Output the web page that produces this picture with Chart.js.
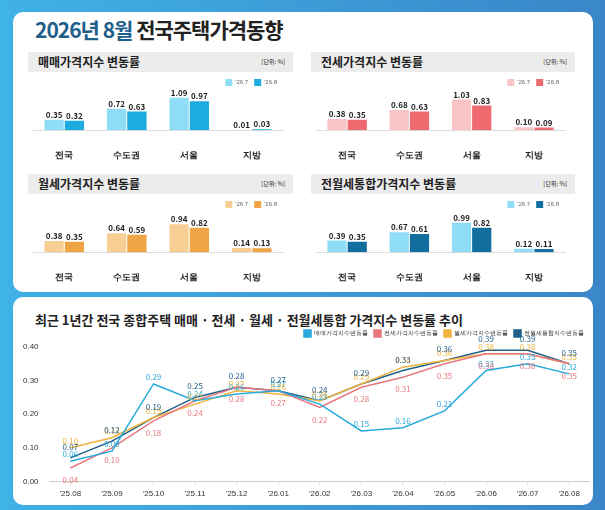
<!DOCTYPE html>
<html><head><meta charset="utf-8">
<script src="https://cdn.jsdelivr.net/npm/chart.js@4"></script>
<style>
body{margin:0;width:605px;height:510px;overflow:hidden;font-family:"Noto Sans CJK KR","Noto Sans",sans-serif;
 background:linear-gradient(90deg,#3fb2e6,#3a86c8);}
.card{position:absolute;background:#fff;border-radius:10px}
.title{position:absolute;left:35px;top:14px;font-size:21px;font-weight:bold;color:#222;letter-spacing:-1px}
.title span{color:#1f5f8b}
.hd{position:absolute;height:20px;background:#ececec;font-size:12px;font-weight:bold;line-height:20px;padding-left:10px;color:#222}
.hd i{position:absolute;right:8px;font-style:normal;font-size:6px;font-weight:normal}
.box{position:absolute}
.btitle{position:absolute;left:35px;top:310px;font-size:13px;font-weight:bold;color:#222}
</style></head><body>
<div class="card" style="left:13px;top:12px;width:580px;height:280px"></div>
<div class="card" style="left:13px;top:297px;width:580px;height:208px"></div>
<div class="title"><span>2026년 8월</span> 전국주택가격동향</div>
<div class="hd" style="left:28px;top:52px;width:255px">매매가격지수 변동률<i>[단위: %]</i></div>
<div class="hd" style="left:311px;top:52px;width:254px">전세가격지수 변동률<i>[단위: %]</i></div>
<div class="hd" style="left:28px;top:174px;width:255px">월세가격지수 변동률<i>[단위: %]</i></div>
<div class="hd" style="left:311px;top:174px;width:254px">전월세통합가격지수 변동률<i>[단위: %]</i></div>
<div class="box" style="left:28px;top:73px;width:265px;height:100px"><canvas id="c1"></canvas></div>
<div class="box" style="left:311px;top:73px;width:264px;height:100px"><canvas id="c2"></canvas></div>
<div class="box" style="left:28px;top:195px;width:265px;height:100px"><canvas id="c3"></canvas></div>
<div class="box" style="left:311px;top:195px;width:264px;height:100px"><canvas id="c4"></canvas></div>
<div class="btitle">최근 1년간 전국 종합주택 매매 · 전세 · 월세 · 전월세통합 가격지수 변동률 추이</div>
<div class="box" style="left:20px;top:324px;width:570px;height:178px"><canvas id="c5"></canvas></div>
<script>
var regions=["전국","수도권","서울","지방"];
var saleJul=[0.35,0.72,1.09,0.01], saleAug=[0.32,0.63,0.97,0.03];
var jeonseJul=[0.38,0.68,1.03,0.10], jeonseAug=[0.35,0.63,0.83,0.09];
var rentJul=[0.38,0.64,0.94,0.14], rentAug=[0.35,0.59,0.82,0.13];
var mixJul=[0.39,0.67,0.99,0.12], mixAug=[0.35,0.61,0.82,0.11];

var months=["'25.08","'25.09","'25.10","'25.11","'25.12","'26.01","'26.02","'26.03","'26.04","'26.05","'26.06","'26.07","'26.08"];
var saleLine=[0.06,0.09,0.29,0.24,0.26,0.27,0.23,0.15,0.16,0.21,0.33,0.35,0.32];
var jeonseLine=[0.04,0.10,0.18,0.24,0.28,0.27,0.22,0.28,0.31,0.35,0.38,0.38,0.35];
var rentLine=[0.10,0.13,0.19,0.23,0.27,0.26,0.24,0.29,0.34,0.36,0.38,0.38,0.35];
var mixLine=[0.07,0.12,0.19,0.25,0.28,0.27,0.24,0.29,0.33,0.36,0.39,0.39,0.35];

var valueLabels={id:"valueLabels",afterDatasetsDraw:function(chart){
  var ctx=chart.ctx;ctx.save();
  chart.data.datasets.forEach(function(ds,i){
    chart.getDatasetMeta(i).data.forEach(function(el,j){
      ctx.font="bold 8px 'Noto Sans CJK KR'";ctx.textAlign="center";
      if(chart.config.type==="bar"){ctx.fillStyle="#222";ctx.fillText(ds.data[j].toFixed(2),el.x,el.y-5);}
      else{ctx.fillStyle=ds.borderColor;ctx.font="8px 'Noto Sans CJK KR'";
        var off=[-7,12,-7,-7][i];ctx.fillText(ds.data[j].toFixed(2),el.x,el.y+off-(i==3?4:0));}
    });
  });ctx.restore();}};

function barChart(id,a,b,c1,c2){
  new Chart(document.getElementById(id),{type:"bar",
    data:{labels:regions,datasets:[{label:"'26.7",data:a,backgroundColor:c1},{label:"'26.8",data:b,backgroundColor:c2}]},
    options:{responsive:true,maintainAspectRatio:false,animation:false,
      layout:{padding:{left:5,right:10}},
      plugins:{legend:{align:"end",labels:{boxWidth:7,boxHeight:7,font:{size:6},padding:6}},tooltip:{enabled:false}},
      datasets:{bar:{categoryPercentage:0.65,barPercentage:0.95}},
      scales:{y:{display:false,min:0,max:1.15},
        x:{grid:{display:false},border:{color:"#ddd"},ticks:{padding:12,color:"#222",font:{size:9,weight:"bold"}}}}},
    plugins:[valueLabels]});
}
barChart("c1",saleJul,saleAug,"#8fdcf6","#1cacdf");
barChart("c2",jeonseJul,jeonseAug,"#f9c4c6","#ee6a6f");
barChart("c3",rentJul,rentAug,"#f7cf95","#f0a545");
barChart("c4",mixJul,mixAug,"#8fdcf6","#136ea0");

function ln(label,data,color){return {label:label,data:data,borderColor:color,backgroundColor:color,borderWidth:1.5,pointRadius:0,tension:0};}
new Chart(document.getElementById("c5"),{type:"line",
  data:{labels:months,datasets:[ln("매매가격지수변동률",saleLine,"#29a9dc"),ln("전세가격지수변동률",jeonseLine,"#e8787f"),
    ln("월세가격지수변동률",rentLine,"#f0b33c"),ln("전월세통합지수변동률",mixLine,"#1f5f8b")]},
  options:{responsive:true,maintainAspectRatio:false,animation:false,
    plugins:{legend:{align:"end",labels:{boxWidth:7,boxHeight:7,font:{size:6},padding:6,color:"#333"}},tooltip:{enabled:false}},
    scales:{y:{min:0,max:0.4,ticks:{stepSize:0.1,callback:function(v){return v.toFixed(2);},font:{size:8},color:"#333"},grid:{display:false},border:{display:false}},
      x:{offset:true,grid:{drawOnChartArea:false,tickLength:5},border:{color:"#ccc"},ticks:{font:{size:8},color:"#333"}}}},
  plugins:[valueLabels]});
</script></body></html>
